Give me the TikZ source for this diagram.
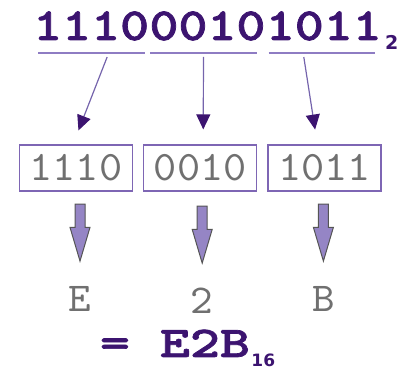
\documentclass[tikz,border=0pt]{standalone}
\usepackage{fontspec}
\usetikzlibrary{positioning,arrows.meta,shapes.arrows}
\newfontfamily\binfont{lmmonolt10-bold.otf}[FakeStretch=1.2,FakeBold=1.6]
\newfontfamily\resfont{lmmonolt10-bold.otf}[FakeStretch=1.3,FakeBold=1.6]
\newfontfamily\nibfont{lmmono10-regular.otf}[FakeStretch=1.05]
\newfontfamily\subfont{DejaVu Sans}
\definecolor{binpurple}{HTML}{3C1470}
\definecolor{linepurple}{HTML}{8E7CC3}
\definecolor{boxpurple}{HTML}{7E66B4}
\definecolor{linkpurple}{HTML}{7564AC}
\definecolor{lavender}{HTML}{9585C5}
\definecolor{arrowgray}{HTML}{555555}
\definecolor{textgray}{HTML}{707070}

\begin{document}
\begin{tikzpicture}[x=1pt,y=-1pt,inner sep=0pt,
    bits/.style={font=\binfont\fontsize{46}{46}\selectfont,text=binpurple},
    nibble/.style={draw=boxpurple,line width=1.2pt,minimum width=113pt,minimum height=46pt,font=\nibfont\fontsize{42}{42}\selectfont,text=textgray},
    hex/.style={font=\nibfont\fontsize{41}{41}\selectfont,text=textgray},
    radix/.style={font=\subfont\bfseries\fontsize{19}{19}\selectfont,text=binpurple},
    underline/.style={draw=linepurple,line width=2pt},
    link/.style={draw=linkpurple,line width=1.2pt,-{Triangle[length=15pt,width=14pt,color=binpurple]},shorten >=15pt},
    fat/.style={single arrow,draw=arrowgray,fill=lavender,line width=1pt,inner sep=4.5pt,shape border rotate=270,minimum height=57pt,minimum width=19pt,single arrow head extend=5pt,single arrow tip angle=33}]
    \useasboundingbox (0,0) rectangle (408,371);

    % the binary number, split in groups of four
    \node[bits,anchor=base west] (g1) at (33,40) {1110};
    \node[bits,base right=0pt of g1] (g2) {0010};
    \node[bits,base right=0pt of g2] (g3) {1011};
    \node[radix,anchor=base west] (s2) at (385,50) {2};

    \draw[underline] ([xshift=5pt,yshift=-13pt]g1.base west) -- ([xshift=-4pt,yshift=-13pt]g1.base east);
    \draw[underline] ([xshift=1pt,yshift=-13pt]g2.base west) -- ([xshift=-9pt,yshift=-13pt]g2.base east);
    \draw[underline] ([xshift=3pt,yshift=-13pt]g3.base west) -- ([xshift=-7pt,yshift=-13pt]g3.base east);

    % the nibbles
    \node[nibble] (b1) at (76,168) {1110};
    \node[nibble,right=10pt of b1] (b2) {0010};
    \node[nibble,right=10pt of b2] (b3) {1011};

    \path
        ([xshift=16pt,yshift=-17pt]g1.base) edge[link] ([xshift=-3pt]b1.north)
        ([xshift=-4pt,yshift=-17pt]g2.base) edge[link] ([xshift=3pt]b2.north)
        ([xshift=-20pt,yshift=-17pt]g3.base) edge[link] ([xshift=-7pt]b3.north)
        ;

    % nibble -> hex digit
    \node[fat,below=12pt of b1,anchor=tail,xshift=4pt] (a1) {};
    \node[fat,below=14pt of b2,anchor=tail,xshift=2pt] (a2) {};
    \node[fat,below=12pt of b3,anchor=tail,xshift=-1pt] (a3) {};

    \node[hex,below=23pt of a1.tip] (h1) {E};
    \node[hex,below=23pt of a2.tip] (h2) {2};
    \node[hex,below=23pt of a3.tip] (h3) {B};

    % result
    \node[font=\resfont\fontsize{44}{44}\selectfont,text=binpurple,anchor=base] (res) at (175,357) {= E2B};
    \node[radix,font=\subfont\bfseries\fontsize{17}{17}\selectfont,base right=1pt of res,yshift=-10pt] (s16) {16};
\end{tikzpicture}
\end{document}
